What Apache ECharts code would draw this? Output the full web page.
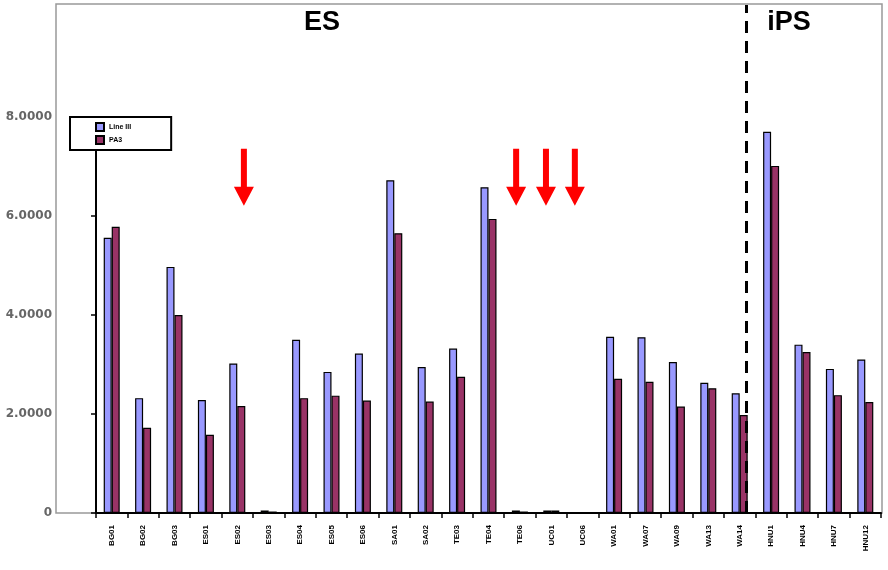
<!DOCTYPE html>
<html><head><meta charset="utf-8">
<script src="https://cdn.jsdelivr.net/npm/echarts@6/dist/echarts.min.js"></script>
<style>html,body{margin:0;padding:0;background:#fff}#c{width:888px;height:570px}</style>
</head><body><div id="c"></div>
<script>
const categories = ['BG01','BG02','BG03','ES01','ES02','ES03','ES04','ES05','ES06','SA01','SA02','TE03','TE04','TE06','UC01','UC06','WA01','WA07','WA09','WA13','WA14','HNU1','HNU4','HNU7','HNU12'];
const seriesNames = ['Line III','PA3'];
const lineValues = [5.56,2.32,4.97,2.28,3.02,0.05,3.50,2.85,3.22,6.72,2.95,3.32,6.58,0.05,0.05,0,3.56,3.55,3.05,2.63,2.42,7.70,3.40,2.91,3.10];
const paValues   = [5.78,1.72,4.00,1.58,2.16,0.03,2.32,2.37,2.27,5.65,2.25,2.75,5.94,0.03,0.05,0,2.71,2.65,2.15,2.52,1.98,7.01,3.25,2.38,2.24];
const yTickValues = [0,2,4,6,8];
const arrowPositions = [4.71,13.38,14.33,15.25]; // in category units from left edge
const arrowLevel = 6.78;
const dividerPosition = 20.7;
const groupLabels = ['ES','iPS'];

const chart = echarts.init(document.getElementById('c'));
const arrowPath = 'path://M7,0 L13,0 L13,38 L20,38 L10,57 L0,38 L7,38 Z';
chart.setOption({
  animation:false,
  backgroundColor:'#fff',
  grid:{left:96,right:7,top:5,bottom:57},
  legend:{
    orient:'vertical', left:70, top:117,
    padding:[5,40,5,25], itemGap:3,
    backgroundColor:'#fff', borderColor:'#000', borderWidth:2,
    itemWidth:8, itemHeight:8, z:20, icon:'rect',
    textStyle:{fontSize:7,fontWeight:'bold',color:'#000',fontFamily:'Liberation Sans'},
    data:seriesNames
  },
  xAxis:[{
    type:'category', data:categories,
    axisLine:{lineStyle:{color:'#000',width:2}},
    axisTick:{show:true,length:5,lineStyle:{color:'#000',width:1.5}},
    axisLabel:{interval:0,rotate:90,margin:12,fontSize:8,fontWeight:'bold',color:'#000',fontFamily:'Liberation Sans'}
  },{
    type:'value', min:0, max:25, show:false
  }],
  yAxis:{
    type:'value', min:0, max:10.26,
    splitLine:{show:false},
    axisLine:{show:false},
    axisTick:{show:true,customValues:yTickValues,length:5,lineStyle:{color:'#000',width:1.5}},
    axisLabel:{customValues:yTickValues,margin:44,fontSize:12,fontWeight:'bold',color:'#666',fontFamily:'DejaVu Sans',
      formatter:v=>v===0?'0':v.toFixed(4)}
  },
  series:[
    {name:seriesNames[0],type:'bar',data:lineValues,barWidth:8,barGap:'0%',
     itemStyle:{color:'#9999ff',borderColor:'#000',borderWidth:1.2}},
    {name:seriesNames[1],type:'bar',data:paValues,barWidth:8,barGap:'0%',
     itemStyle:{color:'#993366',borderColor:'#000',borderWidth:1.2}},
    {type:'scatter',xAxisIndex:1,symbol:arrowPath,symbolSize:[20,57],
     itemStyle:{color:'#ff0000',opacity:1},z:5,
     data:arrowPositions.map(p=>[p,arrowLevel]),
     markLine:{silent:true,symbol:'none',label:{show:false},z:10,
       data:[
         [{coord:[0,0],lineStyle:{color:'#000',width:2,type:'solid'}},{coord:[0,8]}],
         [{coord:[dividerPosition,0],lineStyle:{color:'#000',width:3,type:[12,8]}},{coord:[dividerPosition,10.26]}]
       ]}
    }
  ],
  graphic:[
    {type:'rect',shape:{x:56,y:4,width:826,height:509},style:{fill:'none',stroke:'#999',lineWidth:1.5},z:-1,silent:true},
    {type:'text',x:322,y:9,style:{text:groupLabels[0],font:'bold 27px "Liberation Sans", Arial',fill:'#000',textAlign:'center'}},
    {type:'text',x:789,y:9,style:{text:groupLabels[1],font:'bold 27px "Liberation Sans", Arial',fill:'#000',textAlign:'center'}}
  ]
});
</script></body></html>
